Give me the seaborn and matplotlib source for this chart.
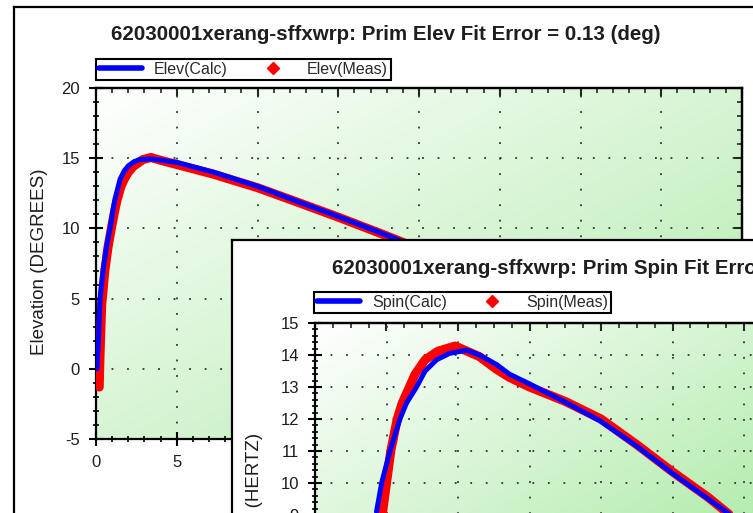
import numpy as np
import pandas as pd
import seaborn as sns
import matplotlib
matplotlib.use("Agg")
import matplotlib.pyplot as plt
from matplotlib.lines import Line2D
from matplotlib.ticker import MultipleLocator, FuncFormatter

# ---------------- data ----------------
elev_calc_x = [0.06, 0.15, 0.25, 0.45, 0.65, 0.87, 1.05, 1.18, 1.49, 1.75, 2.0, 2.35, 2.7, 3.3, 3.8, 5.0, 7.3, 10.0, 12.4, 15.0, 17.6, 20.0]
elev_calc_y = [0.0, 2.0, 5.0, 7.1, 8.7, 10.0, 11.3, 12.1, 13.5, 14.1, 14.45, 14.75, 14.9, 14.95, 14.9, 14.7, 14.0, 13.0, 11.95, 10.85, 9.7, 8.6]
elev_meas_x = [0.2, 0.25, 0.35, 0.55, 0.75, 0.95, 1.15, 1.3, 1.55, 1.75, 2.0, 2.3, 2.9, 3.4, 4.0, 5.0, 7.3, 10.0, 12.4, 15.0, 17.6, 20.0]
elev_meas_y = [-1.3, 1.0, 4.5, 7.0, 8.7, 10.0, 11.2, 12.0, 13.0, 13.5, 14.0, 14.4, 14.9, 15.05, 14.85, 14.55, 13.85, 12.9, 11.9, 10.8, 9.65, 8.55]

spin_calc_x = [4.3, 4.66, 5.24, 5.94, 6.4, 7.1, 7.7, 8.5, 9.4, 10.6, 11.5, 12.7, 13.6, 14.9, 17.4, 19.9, 22.5, 25.0, 27.5, 28.6, 30.0]
spin_calc_y = [9.1, 10.0, 11.0, 12.0, 12.5, 13.0, 13.5, 13.85, 14.05, 14.15, 14.0, 13.7, 13.4, 13.12, 12.55, 11.95, 11.15, 10.3, 9.5, 9.15, 8.7]
spin_meas_x = [4.7, 5.0, 5.3, 5.75, 6.1, 6.6, 7.0, 7.7, 8.6, 9.8, 11.5, 12.7, 13.6, 15.0, 17.5, 20.0, 22.5, 25.0, 27.5, 28.6, 30.0]
spin_meas_y = [9.0, 10.0, 11.0, 12.0, 12.5, 13.0, 13.4, 13.85, 14.12, 14.28, 13.95, 13.55, 13.3, 13.0, 12.55, 12.0, 11.2, 10.35, 9.55, 9.15, 8.65]

title1 = "62030001xerang-sffxwrp: Prim Elev Fit Error = 0.13 (deg)"
title2 = "62030001xerang-sffxwrp: Prim Spin Fit Error = 0.12 (Hz)"
ylabel1 = "Elevation (DEGREES)"
ylabel2 = "Spin Rate (HERTZ)"
legend1 = ["Elev(Calc)", "Elev(Meas)"]
legend2 = ["Spin(Calc)", "Spin(Meas)"]

# ---------------- figure ----------------
sns.set_theme(style="white")
plt.rcParams['font.family'] = ['Liberation Sans', 'DejaVu Sans']
plt.rcParams['axes.unicode_minus'] = False

W, H = 753, 513
fig = plt.figure(figsize=(W / 100, H / 100), dpi=100)
fig.patch.set_facecolor("white")

BLUE = "#0000ff"
RED = "#ff0000"
TXT = "#1e1e1e"


def fax(x0, y0, x1, y1):
    return fig.add_axes([x0 / W, 1 - y1 / H, (x1 - x0) / W, (y1 - y0) / H])


def window(x0, y0):
    a = fax(x0, y0, x0 + 900, y0 + 700)
    a.set_facecolor("white")
    a.set_xticks([])
    a.set_yticks([])
    for s in a.spines.values():
        s.set_color("black")
        s.set_linewidth(1.6)
    return a


def gradient(ax, wpx, hpx, sx, sy):
    yy, xx = np.mgrid[0:hpx, 0:wpx]
    t = np.clip(0.5 * xx / sx + 0.5 * yy / sy, 0, 1)
    c0 = np.array([1.0, 1.0, 1.0])
    c1 = np.array([0xae, 0xeb, 0xa8]) / 255.0
    img = c0 + (c1 - c0) * t[..., None]
    ax.imshow(img, extent=[0, 1, 0, 1], transform=ax.transAxes, aspect="auto",
              zorder=0, origin="upper", interpolation="bilinear")


def style_axes(ax, xmaj, xmin, ymaj, ymin):
    ax.xaxis.set_major_locator(MultipleLocator(xmaj))
    ax.xaxis.set_minor_locator(MultipleLocator(xmin))
    ax.yaxis.set_major_locator(MultipleLocator(ymaj))
    ax.yaxis.set_minor_locator(MultipleLocator(ymin))
    ax.grid(True, which="major", color="#333333", linestyle=(0, (1, 7.6)), linewidth=1.3)
    ax.tick_params(which="major", direction="inout", length=10, width=1.5, color="black",
                   labelsize=12, labelcolor=TXT, pad=6.5)
    ax.tick_params(which="minor", direction="inout", length=5, width=1.2, color="black")
    ax.tick_params(bottom=True, left=True, which="both")
    for s in ax.spines.values():
        s.set_color("black")
        s.set_linewidth(1.6)
    sec = ax.secondary_xaxis("top")
    sec.xaxis.set_major_locator(MultipleLocator(xmaj))
    sec.xaxis.set_minor_locator(MultipleLocator(xmin))
    sec.tick_params(axis="x", which="major", direction="in", length=6, width=1.5, labeltop=False)
    sec.tick_params(axis="x", which="minor", direction="in", length=3.5, width=1.2)
    sec2 = ax.secondary_yaxis("right")
    sec2.yaxis.set_major_locator(MultipleLocator(ymaj))
    sec2.yaxis.set_minor_locator(MultipleLocator(ymin))
    sec2.tick_params(axis="y", which="major", direction="in", length=6, width=1.5, labelright=False)
    sec2.tick_params(axis="y", which="minor", direction="in", length=3.5, width=1.2)
    for s2 in (sec, sec2):
        for s in s2.spines.values():
            s.set_color("black")
            s.set_linewidth(1.6)
    ax.set_xlabel("")
    ax.set_ylabel("")


def draw_series(ax, cx, cy, mx, my):
    dm = pd.DataFrame({"x": mx, "y": my})
    dc = pd.DataFrame({"x": cx, "y": cy})
    sns.lineplot(data=dm, x="x", y="y", ax=ax, sort=False, color=RED, linewidth=6.5,
                 marker="D", markersize=4.5, markeredgewidth=0, legend=False, zorder=3)
    sns.lineplot(data=dc, x="x", y="y", ax=ax, sort=False, color=BLUE, linewidth=3.6,
                 legend=False, zorder=4)


def add_legend(ax, labels, x0, y0):
    handles = [Line2D([], [], color=BLUE, linewidth=4),
               Line2D([], [], color=RED, linestyle="none", marker="D", markersize=6)]
    leg = ax.legend(handles, labels, ncol=2, loc="upper left",
                    bbox_to_anchor=(x0 / W, 1 - y0 / H), bbox_transform=fig.transFigure,
                    borderaxespad=0, frameon=True, fancybox=False, framealpha=1,
                    edgecolor="black", facecolor="white", fontsize=11.5,
                    handlelength=2.7, handletextpad=0.75, columnspacing=1.5,
                    borderpad=0.18)
    leg.get_frame().set_linewidth(1.5)
    for t in leg.get_texts():
        t.set_color("#2a2a2a")
    return leg


# ---------------- window 1 : elevation ----------------
window(14, 7)
ax1 = fax(96, 88, 742, 439)
gradient(ax1, 646, 351, 646, 351)
draw_series(ax1, elev_calc_x, elev_calc_y, elev_meas_x, elev_meas_y)
ax1.set_xlim(0, 40)
ax1.set_ylim(-5, 20)
style_axes(ax1, 5, 1, 5, 1)
# x tick labels from 10 on lie under the second window, only 0 and 5 are visible
ax1.xaxis.set_major_formatter(FuncFormatter(lambda v, p: f"{v:g}" if v < 10 else ""))
add_legend(ax1, legend1, 96, 59)
fig.text(111 / W, 1 - 34 / H, title1, ha="left", va="center", fontsize=14.8,
         fontweight="bold", color=TXT)
fig.text(40 / W, 1 - 262 / H, ylabel1, ha="center", va="center", rotation=90,
         fontsize=13.5, color=TXT)

# ---------------- window 2 : spin ----------------
window(232, 240)
ax2 = fax(315, 323, 887, 803)
gradient(ax2, 572, 480, 400, 250)
draw_series(ax2, spin_calc_x, spin_calc_y, spin_meas_x, spin_meas_y)
ax2.set_xlim(0, 40)
ax2.set_ylim(0, 15)
style_axes(ax2, 5, 1.25, 1, 0.2)
# the x tick labels and the lower y tick labels of this window lie below the visible area
ax2.tick_params(axis="x", labelbottom=False)
ax2.yaxis.set_major_formatter(FuncFormatter(lambda v, p: f"{v:g}" if v >= 9 else ""))
add_legend(ax2, legend2, 314, 292)
fig.text(332 / W, 1 - 269 / H, title2, ha="left", va="center", fontsize=14.8,
         fontweight="bold", color=TXT)
fig.text(255 / W, 1 - 433 / H, ylabel2, ha="center", va="top", rotation=90,
         fontsize=13.5, color=TXT)

fig.savefig("out.png", dpi=100)
